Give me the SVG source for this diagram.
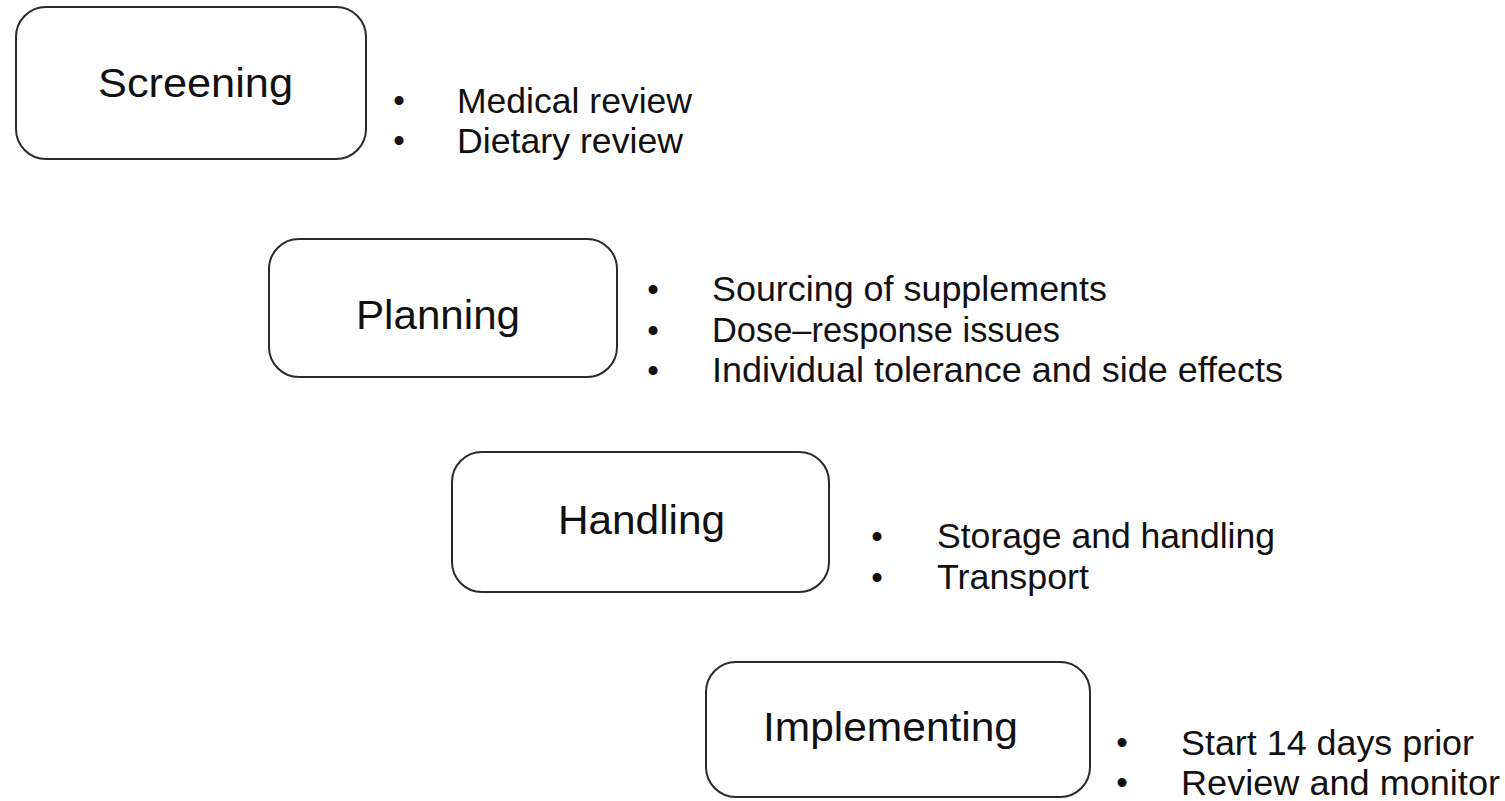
<svg xmlns="http://www.w3.org/2000/svg" width="1505" height="801" viewBox="0 0 1505 801">
<style>
.box{fill:#fff;stroke:#2a2a2a;stroke-width:2}
.title{font-family:"Liberation Sans",Arial,sans-serif;font-size:41px;fill:#111}
.item{font-family:"Liberation Sans",Arial,sans-serif;font-size:35px;fill:#111}
.bul{font-family:"Liberation Sans",Arial,sans-serif;font-size:33px;fill:#111;text-anchor:middle}
</style>
<rect width="1505" height="801" fill="#fff"/>
<g id="connectors"></g>
<g id="screening">
<rect class="box" x="16" y="7" width="350" height="152" rx="30" ry="30"/>
<text class="title" x="98" y="97" textLength="195" lengthAdjust="spacingAndGlyphs">Screening</text>
<text class="bul" x="399" y="112">•</text>
<text class="bul" x="399" y="152">•</text>
<text class="item" x="457" y="113" textLength="235" lengthAdjust="spacingAndGlyphs">Medical review</text>
<text class="item" x="457" y="153" textLength="226" lengthAdjust="spacingAndGlyphs">Dietary review</text>
</g>
<g id="planning">
<rect class="box" x="269" y="239" width="348" height="138" rx="30" ry="30"/>
<text class="title" x="356" y="329" textLength="164" lengthAdjust="spacingAndGlyphs">Planning</text>
<text class="bul" x="653" y="301">•</text>
<text class="bul" x="653" y="342">•</text>
<text class="bul" x="653" y="382">•</text>
<text class="item" x="712" y="301" textLength="395" lengthAdjust="spacingAndGlyphs">Sourcing of supplements</text>
<text class="item" x="712" y="342" textLength="348" lengthAdjust="spacingAndGlyphs">Dose–response issues</text>
<text class="item" x="712" y="382" textLength="571" lengthAdjust="spacingAndGlyphs">Individual tolerance and side effects</text>
</g>
<g id="handling">
<rect class="box" x="452" y="452" width="377" height="140" rx="30" ry="30"/>
<text class="title" x="558" y="534" textLength="167" lengthAdjust="spacingAndGlyphs">Handling</text>
<text class="bul" x="877" y="548">•</text>
<text class="bul" x="877" y="589">•</text>
<text class="item" x="937" y="548" textLength="338" lengthAdjust="spacingAndGlyphs">Storage and handling</text>
<text class="item" x="937" y="589" textLength="152" lengthAdjust="spacingAndGlyphs">Transport</text>
</g>
<g id="implementing">
<rect class="box" x="706" y="662" width="384" height="135" rx="30" ry="30"/>
<text class="title" x="763" y="741" textLength="255" lengthAdjust="spacingAndGlyphs">Implementing</text>
<text class="bul" x="1122" y="754">•</text>
<text class="bul" x="1122" y="794">•</text>
<text class="item" x="1181" y="755" textLength="293" lengthAdjust="spacingAndGlyphs">Start 14 days prior</text>
<text class="item" x="1181" y="795" textLength="319" lengthAdjust="spacingAndGlyphs">Review and monitor</text>
</g>
</svg>
